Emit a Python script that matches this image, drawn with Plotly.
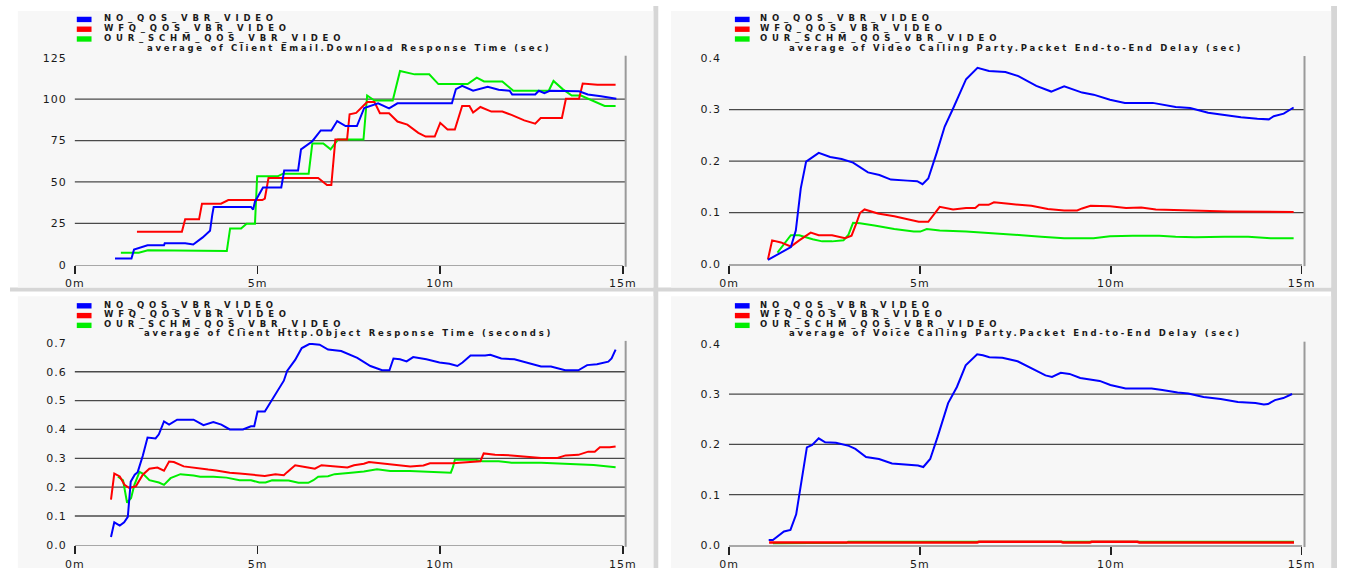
import plotly.graph_objects as go

# ---------------- data (minutes, metric value) ----------------
series_names = ["NO_QOS_VBR_VIDEO", "WFQ_QOS_VBR_VIDEO", "OUR_SCHM_QOS_VBR_VIDEO"]
series_colors = ["#0000ff", "#ff0000", "#00ee00"]

x_tick_vals = [0, 5, 10, 15]
x_tick_text = ["0m", "5m", "10m", "15m"]

# Client Email download response time (sec)
email_no_t = [1.10, 1.55, 1.62, 1.99, 2.44, 2.46, 3.02, 3.24, 3.50, 3.70, 3.76, 3.80, 4.82, 4.88, 4.93, 5.15, 5.65, 5.73,
              6.11, 6.19, 6.50, 6.73, 7.02, 7.18, 7.41, 7.72, 7.92, 8.30, 8.60, 8.83, 10.32, 10.43, 10.60, 10.90, 11.30,
              11.60, 11.90, 11.97, 12.60, 12.70, 12.85, 13.00, 13.80, 14.04, 14.40, 14.82]
email_no_v = [3.8, 3.8, 9.1, 11.7, 11.7, 12.9, 12.9, 12.2, 16.5, 20.5, 30.0, 34.9, 34.9, 33.3, 38.1, 46.7, 46.7, 56.9,
              56.9, 69.7, 74.6, 81.1, 81.1, 86.8, 83.8, 83.8, 94.7, 97.5, 94.5, 97.5, 97.5, 106.1, 108.1, 105.1, 107.5,
              105.7, 105.1, 102.8, 102.8, 105.1, 103.7, 105.1, 104.8, 102.8, 101.8, 100.2]
email_wfq_t = [1.70, 2.93, 3.02, 3.40, 3.48, 4.00, 4.20, 5.13, 5.20, 5.30, 6.66, 6.90, 7.02, 7.13, 7.45, 7.52, 7.70, 8.00,
               8.20, 8.35, 8.60, 8.83, 9.10, 9.40, 9.60, 9.85, 10.00, 10.20, 10.40, 10.60, 10.80, 10.90, 11.10, 11.40,
               11.70, 11.95, 12.30, 12.60, 12.75, 13.33, 13.44, 13.80, 13.90, 14.30, 14.80]
email_wfq_v = [19.9, 19.9, 27.4, 27.4, 36.9, 36.9, 39.1, 39.1, 40.0, 52.4, 52.4, 48.1, 48.1, 75.6, 75.6, 90.9, 91.7, 98.3,
               98.3, 91.5, 91.5, 86.5, 84.6, 79.7, 77.4, 77.4, 85.7, 81.7, 81.7, 95.9, 95.9, 91.9, 95.3, 92.5,
               92.5, 90.5, 87.2, 85.2, 88.6, 88.6, 100.2, 100.2, 109.5, 108.7, 108.7]
email_our_t = [1.26, 1.75, 2.00, 4.16, 4.25, 4.55, 4.70, 4.93, 4.99, 5.55, 5.70, 6.40, 6.50, 6.80, 7.00, 7.20, 7.90, 8.00,
               8.20, 8.70, 8.90, 9.30, 9.70, 9.95, 10.75, 11.00, 11.20, 11.70, 12.00, 12.97, 13.10, 13.35, 13.60, 13.85,
               14.50, 14.80]
email_our_v = [7.3, 7.3, 8.7, 8.3, 21.9, 21.9, 24.8, 24.8, 53.4, 53.4, 55.0, 55.0, 73.3, 73.3, 69.7, 75.6, 75.6, 102.2,
               99.2, 99.2, 117.0, 115.0, 115.0, 109.1, 109.1, 113.0, 110.7, 110.7, 105.1, 105.1, 111.0, 106.1, 102.2, 102.2,
               95.9, 95.9]

# Video calling party packet end-to-end delay (sec)
video_no_t = [1.02, 1.62, 1.75, 1.88, 2.02, 2.35, 2.65, 2.95, 3.25, 3.64, 3.94, 4.24, 4.67, 4.93, 5.07, 5.22, 5.44, 5.65,
              5.87, 6.21, 6.51, 6.81, 7.24, 7.58, 8.05, 8.44, 8.78, 9.25, 9.55, 9.98, 10.37, 11.10, 11.70, 12.08, 12.55,
              12.98, 13.41, 13.84, 14.14, 14.27, 14.53, 14.79]
video_no_v = [0.008, 0.033, 0.065, 0.147, 0.199, 0.216, 0.208, 0.204, 0.197, 0.178, 0.173, 0.164, 0.162, 0.161, 0.155,
              0.166, 0.216, 0.267, 0.302, 0.359, 0.381, 0.375, 0.373, 0.365, 0.346, 0.335, 0.345, 0.333, 0.329, 0.319,
              0.313, 0.313, 0.305, 0.303, 0.294, 0.289, 0.285, 0.282, 0.281, 0.287, 0.292, 0.304]
video_wfq_t = [1.02, 1.13, 1.36, 1.62, 1.84, 2.14, 2.35, 2.70, 3.04, 3.21, 3.34, 3.43, 3.55, 3.90, 4.33, 4.97, 5.22, 5.35,
               5.52, 5.87, 6.21, 6.45, 6.55, 6.80, 6.94, 7.33, 7.67, 7.92, 8.35, 8.78, 9.12, 9.25, 9.47, 9.98, 10.40,
               10.80, 11.18, 12.21, 13.07, 14.79]
video_wfq_v = [0.009, 0.046, 0.042, 0.034, 0.046, 0.061, 0.056, 0.056, 0.050, 0.055, 0.080, 0.099, 0.106, 0.098, 0.093,
               0.082, 0.082, 0.095, 0.111, 0.106, 0.109, 0.109, 0.115, 0.115, 0.120, 0.117, 0.115, 0.113, 0.107, 0.104,
               0.104, 0.108, 0.113, 0.112, 0.109, 0.110, 0.106, 0.104, 0.102, 0.101]
video_our_t = [1.27, 1.62, 1.84, 2.19, 2.44, 2.70, 3.00, 3.13, 3.25, 3.43, 3.81, 4.33, 4.84, 5.01, 5.18, 5.52, 6.21, 6.99,
               7.67, 8.18, 8.78, 9.55, 9.98, 10.58, 11.27, 11.70, 12.21, 12.98, 13.60, 14.19, 14.79]
video_our_v = [0.022, 0.056, 0.056, 0.048, 0.044, 0.044, 0.046, 0.057, 0.080, 0.079, 0.075, 0.068, 0.063, 0.063, 0.068,
               0.065, 0.063, 0.060, 0.056, 0.053, 0.050, 0.050, 0.054, 0.055, 0.055, 0.053, 0.052, 0.053, 0.053, 0.050,
               0.050]

# Client HTTP object response time (seconds)
http_no_t = [0.99, 1.08, 1.23, 1.35, 1.45, 1.53, 1.64, 1.72, 1.86, 1.99, 2.21, 2.30, 2.44, 2.58, 2.80, 3.25, 3.52, 3.79,
             4.01, 4.24, 4.60, 4.82, 4.91, 5.00, 5.20, 5.40, 5.72, 5.81, 6.03, 6.21, 6.43, 6.70, 6.93, 7.29, 7.73, 8.09,
             8.41, 8.61, 8.72, 8.90, 9.08, 9.26, 9.62, 9.98, 10.25, 10.47, 10.61, 10.83, 11.23, 11.37, 11.67, 12.03,
             12.35, 12.76, 13.03, 13.42, 13.78, 14.02, 14.29, 14.60, 14.69, 14.80]
http_no_v = [0.027, 0.078, 0.067, 0.078, 0.097, 0.219, 0.243, 0.252, 0.309, 0.372, 0.369, 0.383, 0.428, 0.417, 0.434,
             0.434, 0.415, 0.426, 0.417, 0.400, 0.400, 0.411, 0.411, 0.462, 0.462, 0.502, 0.569, 0.603, 0.641, 0.682,
             0.697, 0.694, 0.677, 0.672, 0.648, 0.620, 0.605, 0.605, 0.646, 0.643, 0.636, 0.651, 0.643, 0.632, 0.628,
             0.620, 0.632, 0.656, 0.656, 0.659, 0.646, 0.643, 0.632, 0.618, 0.618, 0.605, 0.605, 0.623, 0.626, 0.635,
             0.646, 0.677]
http_wfq_t = [0.99, 1.08, 1.23, 1.36, 1.49, 1.67, 1.86, 2.04, 2.26, 2.44, 2.58, 2.71, 2.98, 3.38, 3.65, 3.87, 4.24, 4.51,
              5.00, 5.20, 5.49, 5.72, 5.81, 6.03, 6.30, 6.57, 6.75, 7.02, 7.46, 7.64, 7.91, 8.05, 8.46, 8.82, 9.18, 9.54,
              9.72, 10.34, 10.97, 11.10, 11.19, 11.50, 11.95, 12.40, 12.76, 13.21, 13.43, 13.78, 14.05, 14.23, 14.37,
              14.64, 14.80]
http_wfq_v = [0.157, 0.247, 0.237, 0.208, 0.197, 0.203, 0.243, 0.264, 0.268, 0.257, 0.289, 0.287, 0.272, 0.264, 0.261,
              0.258, 0.250, 0.247, 0.241, 0.239, 0.245, 0.241, 0.252, 0.276, 0.270, 0.264, 0.276, 0.273, 0.268, 0.276,
              0.281, 0.287, 0.281, 0.277, 0.272, 0.275, 0.283, 0.283, 0.289, 0.290, 0.317, 0.312, 0.310, 0.304, 0.301,
              0.301, 0.310, 0.312, 0.323, 0.323, 0.338, 0.338, 0.341]
http_our_t = [1.18, 1.32, 1.43, 1.54, 1.63, 1.77, 1.86, 2.04, 2.30, 2.44, 2.62, 2.89, 3.25, 3.43, 3.79, 4.15, 4.51, 4.82,
              5.05, 5.22, 5.40, 5.85, 6.12, 6.39, 6.53, 6.66, 6.93, 7.11, 7.56, 7.91, 8.27, 8.63, 9.17, 9.62, 10.29,
              10.35, 10.40, 10.97, 11.15, 11.60, 11.95, 12.76, 13.66, 14.20, 14.80]
http_our_v = [0.236, 0.224, 0.146, 0.162, 0.208, 0.253, 0.247, 0.224, 0.216, 0.208, 0.231, 0.245, 0.240, 0.236, 0.236,
              0.233, 0.224, 0.224, 0.216, 0.216, 0.224, 0.223, 0.215, 0.215, 0.224, 0.236, 0.238, 0.245, 0.250, 0.254,
              0.262, 0.256, 0.256, 0.253, 0.250, 0.270, 0.295, 0.295, 0.290, 0.290, 0.285, 0.285, 0.280, 0.277, 0.269]

# Voice calling party packet end-to-end delay (sec)
voice_no_t = [1.04, 1.15, 1.44, 1.61, 1.76, 1.84, 1.95, 2.04, 2.18, 2.35, 2.52, 2.80, 3.14, 3.31, 3.59, 3.93, 4.27, 4.72,
              4.95, 5.09, 5.27, 5.46, 5.74, 5.97, 6.20, 6.50, 6.65, 6.82, 7.16, 7.56, 7.95, 8.29, 8.46, 8.69, 8.92, 9.20,
              9.71, 9.99, 10.39, 11.07, 11.35, 11.75, 12.03, 12.43, 12.88, 13.33, 13.79, 14.01, 14.12, 14.30, 14.52,
              14.75]
voice_no_v = [0.010, 0.010, 0.027, 0.030, 0.061, 0.100, 0.158, 0.194, 0.199, 0.212, 0.204, 0.203, 0.197, 0.191, 0.175,
              0.171, 0.162, 0.160, 0.158, 0.155, 0.171, 0.214, 0.282, 0.314, 0.357, 0.379, 0.377, 0.373, 0.372, 0.365,
              0.350, 0.337, 0.334, 0.342, 0.340, 0.332, 0.326, 0.318, 0.311, 0.311, 0.308, 0.303, 0.301, 0.294, 0.290,
              0.284, 0.282, 0.279, 0.280, 0.288, 0.292, 0.300]
voice_wfq_t = [1.05, 6.50, 6.55, 8.70, 8.75, 9.45, 9.50, 10.70, 10.75, 14.80]
voice_wfq_v = [0.005, 0.005, 0.0065, 0.0065, 0.005, 0.005, 0.0065, 0.0065, 0.005, 0.005]
voice_our_t = [1.15, 1.30, 3.08, 3.12, 14.80]
voice_our_v = [0.003, 0.003, 0.004, 0.007, 0.007]

# ---------------- panel layout (pixel geometry of the 1351x575 canvas) ----------------
W, H = 1351, 575


def px(x):
    return x / W


def py(y):
    return 1 - y / H


panels = [
    dict(title="average of Client Email.Download Response Time (sec)",
         data=[(email_no_t, email_no_v), (email_wfq_t, email_wfq_v), (email_our_t, email_our_v)],
         yticks=[0, 25, 50, 75, 100, 125], ytext=["0", "25", "50", "75", "100", "125"],
         x0=66, x1=624, ybot=264.7, ytop=53.0, bg=(8, 5, 655, 288),
         leg_x=68, leg_y=12.5, text_x=95, title_x=345, title_y=42.5),
    dict(title="average of Video Calling Party.Packet End-to-End Delay (sec)",
         data=[(video_no_t, video_no_v), (video_wfq_t, video_wfq_v), (video_our_t, video_our_v)],
         yticks=[0, 0.1, 0.2, 0.3, 0.4], ytext=["0.0", "0.1", "0.2", "0.3", "0.4"],
         x0=732, x1=1315, ybot=264.0, ytop=53.3, bg=(673, 5, 1345, 288),
         leg_x=738, leg_y=12.5, text_x=763, title_x=1024, title_y=42.5),
    dict(title="average of Client Http.Object Response Time (seconds)",
         data=[(http_no_t, http_no_v), (http_wfq_t, http_wfq_v), (http_our_t, http_our_v)],
         yticks=[0, 0.1, 0.2, 0.3, 0.4, 0.5, 0.6, 0.7],
         ytext=["0.0", "0.1", "0.2", "0.3", "0.4", "0.5", "0.6", "0.7"],
         x0=66, x1=624, ybot=551.3, ytop=344.7, bg=(8, 297, 655, 575),
         leg_x=68, leg_y=305.5, text_x=95, title_x=345, title_y=335),
    dict(title="average of Voice Calling Party.Packet End-to-End Delay (sec)",
         data=[(voice_no_t, voice_no_v), (voice_wfq_t, voice_wfq_v), (voice_our_t, voice_our_v)],
         yticks=[0, 0.1, 0.2, 0.3, 0.4], ytext=["0.0", "0.1", "0.2", "0.3", "0.4"],
         x0=732, x1=1315, ybot=551.5, ytop=345.5, bg=(673, 297, 1345, 575),
         leg_x=738, leg_y=305.5, text_x=763, title_x=1024, title_y=335),
]

FONT = "DejaVu Sans"
TEXT_COLOR = "#1a1a1a"
LABEL_SIZE = 8.5


def spaced(text, sp, bold=False):
    inner = f"<b>{text}</b>" if bold else text
    return f'<span style="letter-spacing:{sp}px">{inner}</span>'


fig = go.Figure()
shapes = []
annotations = []

# light separators between the four graph windows
for (xa, ya, xb, yb) in [(655, 0, 660, 290), (1345, 0, 1351, 290), (655, 290, 660, 575), (1345, 290, 1351, 575),
                         (0, 288, 1351, 292)]:
    shapes.append(dict(type="rect", xref="paper", yref="paper", x0=px(xa), x1=px(xb), y0=py(yb), y1=py(ya),
                       fillcolor="#d6d6d6", line=dict(width=0), layer="below"))

for i, p in enumerate(panels):
    n = "" if i == 0 else str(i + 1)
    xname, yname = "x" + n, "y" + n
    top_val = p["yticks"][-1]

    # window background
    bx0, by0, bx1, by1 = p["bg"]
    shapes.append(dict(type="rect", xref="paper", yref="paper", x0=px(bx0), x1=px(bx1), y0=py(by1), y1=py(by0),
                       fillcolor="#f7f7f7", line=dict(width=0), layer="below"))

    # horizontal grid lines (between the baseline and the top value)
    for gv in p["yticks"][1:-1]:
        shapes.append(dict(type="line", xref=xname + " domain", yref=yname, x0=0, x1=1.004, y0=gv, y1=gv,
                           line=dict(color="#4a4a4a", width=1.3), layer="below"))
    # right frame line
    shapes.append(dict(type="line", xref=xname + " domain", yref=yname + " domain", x0=1.005, x1=1.005,
                       y0=-0.01, y1=1.01, line=dict(color="#9a9a9a", width=2), layer="below"))

    # series lines, drawn green first so blue stays on top
    for k in [2, 1, 0]:
        t_vals, v_vals = p["data"][k]
        width = 2
        if i == 3 and k == 1:
            width = 2.5
        elif i == 3 and k == 2:
            width = 1.5
        fig.add_trace(go.Scatter(x=t_vals, y=v_vals, mode="lines", name=series_names[k],
                                 line=dict(color=series_colors[k], width=width),
                                 xaxis=xname, yaxis=yname, showlegend=False, hoverinfo="skip"))

    fig.layout["xaxis" + n] = dict(
        domain=[px(p["x0"]), px(p["x1"])], anchor=yname, range=[0, 15],
        tickvals=x_tick_vals, ticktext=[spaced(t, 1) for t in x_tick_text],
        ticks="outside", ticklen=8, tickwidth=1.5, tickcolor="#222",
        showline=True, linecolor="#a8a8a8", linewidth=1.5,
        showgrid=False, zeroline=False, fixedrange=True,
        tickfont=dict(family=FONT, size=11, color=TEXT_COLOR))
    fig.layout["yaxis" + n] = dict(
        domain=[py(p["ybot"]), py(p["ytop"])], anchor=xname, range=[0, top_val],
        tickvals=p["yticks"], ticktext=[spaced(t, 1) for t in p["ytext"]],
        ticks="", showline=False, showgrid=False, zeroline=False, fixedrange=True,
        ticklabelstandoff=7,
        tickfont=dict(family=FONT, size=11, color=TEXT_COLOR))

    # legend block: colour swatches and series names
    for k in range(3):
        cy = p["leg_y"] + 10 * k
        shapes.append(dict(type="rect", xref="paper", yref="paper",
                           x0=px(p["leg_x"]), x1=px(p["leg_x"] + 15), y0=py(cy + 4), y1=py(cy - 1.5),
                           fillcolor=series_colors[k], line=dict(width=0)))
        annotations.append(dict(xref="paper", yref="paper", x=px(p["text_x"]), y=py(cy),
                                xanchor="left", yanchor="middle", showarrow=False, borderpad=0,
                                text=spaced(series_names[k], 4.8, bold=True),
                                font=dict(family=FONT, size=LABEL_SIZE, color=TEXT_COLOR)))
    annotations.append(dict(xref="paper", yref="paper", x=px(p["title_x"]), y=py(p["title_y"]),
                            xanchor="center", yanchor="middle", showarrow=False, borderpad=0,
                            text=spaced(p["title"], 2.7, bold=True),
                            font=dict(family=FONT, size=LABEL_SIZE, color=TEXT_COLOR)))

fig.update_layout(
    width=W, height=H, margin=dict(l=0, r=0, t=0, b=0, pad=0),
    paper_bgcolor="#ffffff", plot_bgcolor="rgba(0,0,0,0)",
    shapes=shapes, annotations=annotations, showlegend=False,
    font=dict(family=FONT, color=TEXT_COLOR),
)

fig.write_html("out.html", config={"displayModeBar": False, "staticPlot": True},
               post_script="document.body.style.margin='0px';")
